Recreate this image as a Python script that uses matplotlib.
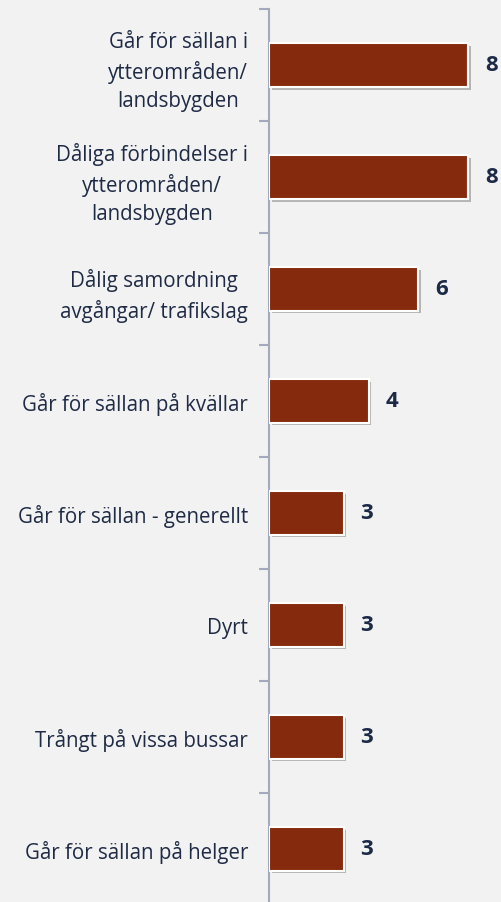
import matplotlib.pyplot as plt
import matplotlib.patheffects as pe

categories = [
    "Går för sällan i\nytterområden/\nlandsbygden",
    "Dåliga förbindelser i\nytterområden/\nlandsbygden",
    "Dålig samordning\navgångar/ trafikslag",
    "Går för sällan på kvällar",
    "Går för sällan - generellt",
    "Dyrt",
    "Trångt på vissa bussar",
    "Går för sällan på helger",
]
values = [8, 8, 6, 4, 3, 3, 3, 3]

bg = "#f2f2f2"
bar_color = "#862a0e"
axis_color = "#a4a9be"
text_color = "#1f2b45"

fig = plt.figure(figsize=(5.02, 9.03), dpi=100, facecolor=bg)
ax = fig.add_axes([269 / 502, -0.003, 1 - 269 / 502, 0.992])
ax.set_facecolor(bg)

pos = list(range(len(categories)))
bars = ax.barh(pos, values, height=0.39, color=bar_color,
               edgecolor="white", linewidth=1.5, zorder=3)
for b in bars:
    b.set_path_effects([pe.SimplePatchShadow(offset=(2, -2), shadow_rgbFace="#000000", alpha=0.25),
                        pe.Normal()])

ax.set_ylim(len(categories) - 0.5, -0.5)
ax.set_xlim(0, 9.36)
ax.set_yticks([p - 0.5 for p in pos] + [len(categories) - 0.5])
ax.set_yticklabels([])
ax.set_yticks(pos, minor=True)
ax.set_yticklabels(categories, minor=True, fontsize=14.8, color=text_color,
                   family="Open Sans", multialignment="center", linespacing=1.45)
ax.tick_params(axis="y", which="major", length=7, width=1.5, color=axis_color, direction="out")
ax.tick_params(axis="y", which="minor", length=0, pad=15)
ax.set_xticks([])

for s in ["top", "right", "bottom"]:
    ax.spines[s].set_visible(False)
ax.spines["left"].set_color(axis_color)
ax.spines["left"].set_linewidth(1.5)

for p, v in zip(pos, values):
    ax.annotate(str(v), (v, p), xytext=(12, 0), textcoords="offset points",
                ha="left", va="center", fontsize=16, fontweight="bold",
                color="#1c2a48", family="Open Sans")

fig.savefig("out.png", dpi=100, facecolor=bg)
